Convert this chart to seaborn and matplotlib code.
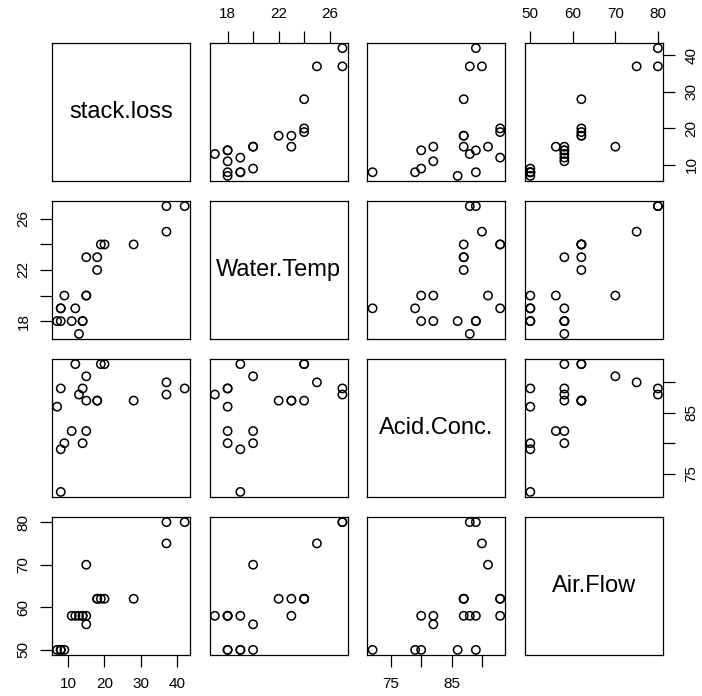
import matplotlib
matplotlib.use("Agg")
import matplotlib.pyplot as plt
import seaborn as sns
import pandas as pd

# stackloss data
air_flow = [80, 80, 75, 62, 62, 62, 62, 62, 58, 58, 58, 58, 58, 58, 50, 50, 50, 50, 50, 56, 70]
water_temp = [27, 27, 25, 24, 22, 23, 24, 24, 23, 18, 18, 17, 18, 19, 18, 18, 19, 19, 20, 20, 20]
acid_conc = [89, 88, 90, 87, 87, 87, 93, 93, 87, 80, 89, 88, 82, 93, 89, 86, 72, 79, 80, 82, 91]
stack_loss = [42, 37, 37, 28, 18, 18, 19, 20, 15, 14, 14, 13, 11, 12, 8, 7, 8, 8, 9, 15, 15]

columns = ["stack.loss", "Water.Temp", "Acid.Conc.", "Air.Flow"]
df = pd.DataFrame({
    "stack.loss": stack_loss,
    "Water.Temp": water_temp,
    "Acid.Conc.": acid_conc,
    "Air.Flow": air_flow,
})

tick_values = {
    "stack.loss": [10, 20, 30, 40],
    "Water.Temp": [18, 20, 22, 24, 26],
    "Acid.Conc.": [75, 80, 85, 90],
    "Air.Flow": [50, 60, 70, 80],
}
tick_labels = {
    "stack.loss": ["10", "20", "30", "40"],
    "Water.Temp": ["18", "", "22", "", "26"],
    "Acid.Conc.": ["75", "", "85", ""],
    "Air.Flow": ["50", "60", "70", "80"],
}

sns.set_style("white")
plt.rcParams['font.family'] = ['Liberation Sans', 'DejaVu Sans']


def padded(values):
    lo, hi = min(values), max(values)
    d = (hi - lo) * 0.04
    return lo - d, hi + d


fig, axes = plt.subplots(4, 4, figsize=(7.02, 6.96), dpi=100)
fig.subplots_adjust(left=52 / 702, right=663 / 702, bottom=1 - 655 / 696,
                    top=1 - 43 / 696, wspace=0.145, hspace=0.145)

for i, yvar in enumerate(columns):
    for j, xvar in enumerate(columns):
        ax = axes[i, j]
        for s in ax.spines.values():
            s.set_color("black")
            s.set_linewidth(0.9)
        if i == j:
            ax.text(0.5, 0.5, xvar, transform=ax.transAxes, ha="center",
                    va="center", fontsize=17, color="black")
        else:
            sns.scatterplot(data=df, x=xvar, y=yvar, ax=ax, marker="o",
                            facecolor="none", edgecolor="black",
                            linewidth=1.1, s=36, legend=False)
            ax.set_xlim(padded(df[xvar]))
            ax.set_ylim(padded(df[yvar]))
        ax.set_xlabel("")
        ax.set_ylabel("")

        top_x = i == 0 and j % 2 == 1
        bottom_x = i == 3 and j % 2 == 0
        left_y = j == 0 and i % 2 == 1
        right_y = j == 3 and i % 2 == 0

        if top_x or bottom_x:
            ax.set_xticks(tick_values[xvar])
            ax.set_xticklabels(tick_labels[xvar])
            ax.tick_params(axis="x", top=top_x, bottom=bottom_x,
                           labeltop=top_x, labelbottom=bottom_x,
                           length=8.5, width=0.9, pad=7, labelsize=11,
                           colors="black")
        else:
            ax.set_xticks([])
        if left_y or right_y:
            ax.set_yticks(tick_values[yvar])
            ax.set_yticklabels(tick_labels[yvar], rotation=90, va="center")
            ax.tick_params(axis="y", left=left_y, right=right_y,
                           labelleft=left_y, labelright=right_y,
                           length=8.5, width=0.9, pad=7, labelsize=11,
                           colors="black")
        else:
            ax.set_yticks([])

fig.savefig("out.png", dpi=100)
